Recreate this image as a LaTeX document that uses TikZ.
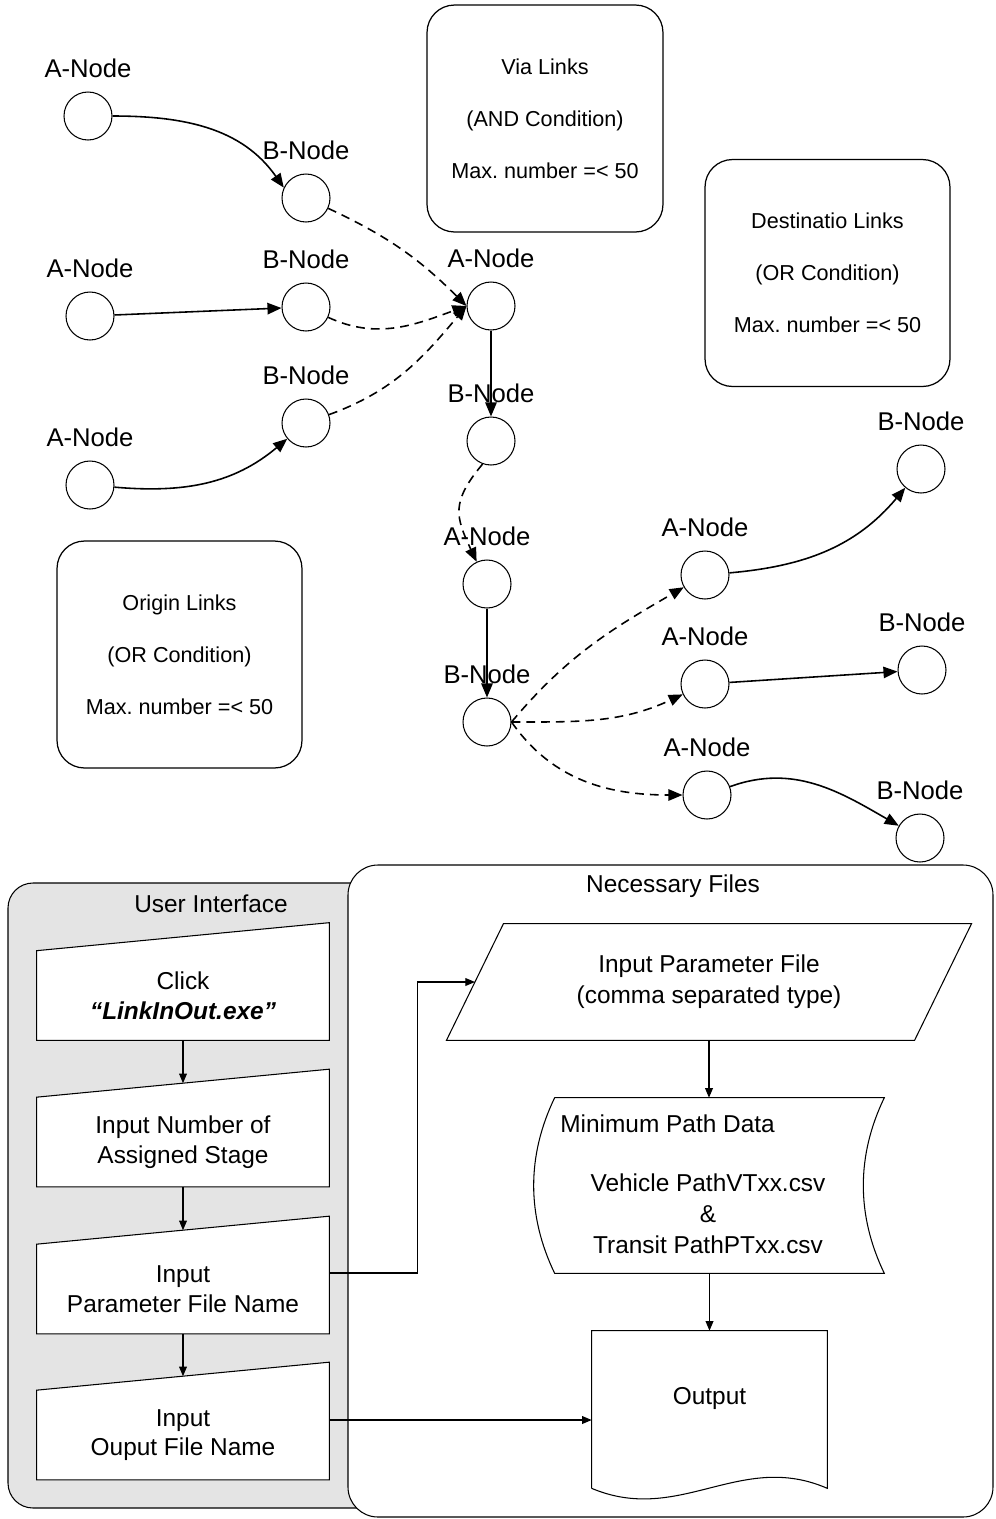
\documentclass[tikz,border=0pt]{standalone}
\usepackage{fontspec}
\setmainfont{Liberation Sans}
\usetikzlibrary{arrows.meta,calc}

\definecolor{panelgray}{RGB}{228,228,228}
\newcommand{\flowfont}{\fontsize{13.9pt}{16.8pt}\selectfont}
\frenchspacing

\tikzset{
	junc/.style={circle, draw, line width=0.6pt, minimum size=0.96cm, inner sep=0pt},
	nd/.style={junc, label={[font=\fontsize{14.6pt}{17pt}\selectfont, inner sep=0pt, label distance=0.26cm]above:#1}},
	link/.style={line width=0.9pt, -{Triangle[length=8pt,width=6.5pt]}},
	vlink/.style={link, dash pattern=on 5pt off 3.4pt},
	infobox/.style={draw, line width=0.7pt, rounded corners=0.55cm, minimum height=4.54cm, align=center, font=\fontsize{12.3pt}{29.6pt}\selectfont},
	muinput/.style={minimum width=5.84cm, minimum height=1.78cm, fill=white, align=center, inner sep=0pt, font=\flowfont},
	flow/.style={line width=0.6pt, -{Triangle[length=5.5pt,width=4.5pt]}}
}

\begin{document}
\begin{tikzpicture}[x=0.02cm, y=0.02cm]
\useasboundingbox (0,0) rectangle (996,-1519);

% condition boxes
\node[infobox, minimum width=4.72cm] (via) at (545,-118.5) {Via Links\\(AND Condition)\\Max. number =< 50};
\node[infobox, minimum width=4.9cm] (dest) at (827.5,-273) {Destinatio Links\\(OR Condition)\\Max. number =< 50};
\node[infobox, minimum width=4.9cm] (orig) at (179.5,-654.5) {Origin Links\\(OR Condition)\\Max. number =< 50};

% origin links
\node[nd=A-Node] (a1) at (88,-116) {};
\node[nd=B-Node] (b1) at (306,-198) {};
\node[nd=A-Node] (a2) at (90,-316) {};
\node[nd=B-Node] (b2) at (306,-307) {};
\node[nd=A-Node] (a3) at (90,-485) {};
\node[nd=B-Node] (b3) at (306,-423) {};

% via links
\node[nd=A-Node] (ca1) at (491,-306) {};
\node[nd=B-Node] (cb1) at (491,-441) {};
\node[nd=A-Node] (ca2) at (487,-584) {};
\node[nd=B-Node] (cb2) at (487,-722) {};

% destination links
\node[nd=A-Node] (da1) at (705,-575) {};
\node[nd=A-Node] (da2) at (705,-684) {};
\node[nd=A-Node] (da3) at (707,-795) {};
\node[nd=B-Node] (db1) at (921,-469) {};
\node[nd=B-Node] (db2) at (922,-670) {};
\node[nd=B-Node] (db3) at (920,-838) {};

\draw[link] (a1) to[out=0,in=125] (b1.155);
\draw[link] (a2) -- (b2);
\draw[link] (a3) to[out=-5,in=220] (b3);
\draw[vlink] (b1) to[out=-25,in=135] (ca1.west);
\draw[vlink] (b2) to[out=-25,in=200] (ca1.west);
\draw[vlink] (b3) to[out=20,in=230] (ca1.west);
\draw[link] (ca1) -- (cb1);
\draw[vlink] (cb1.250) to[out=230,in=115,looseness=1.3] (ca2);
\draw[link] (ca2) -- (cb2);
\draw[vlink] (cb2.east) to[out=50,in=210] (da1);
\draw[vlink] (cb2.east) to[out=0,in=205] (da2);
\draw[vlink] (cb2.east) to[out=-55,in=180] (da3);
\draw[link] (da1) to[out=5,in=230] (db1);
\draw[link] (da2) -- (db2);
\draw[link] (da3) to[out=20,in=150] (db3);

% panels
\draw[line width=0.6pt, fill=panelgray, rounded corners=0.5cm] (8,-883) rectangle (390,-1508);
\draw[line width=0.6pt, fill=white, rounded corners=0.6cm] (348,-865) rectangle (993,-1517);
\node[font=\flowfont] (uititle) at (211,-904) {User Interface};
\node[font=\flowfont] (nftitle) at (673,-886) {Necessary Files};

% user interface steps
\node[muinput] (ui1) at (183,-995.5) {Click\\\textbf{\textit{“LinkInOut.exe”}}};
\node[muinput] (ui2) at (183,-1142) {Input Number of\\Assigned Stage};
\node[muinput] (ui3) at (183,-1289) {Input\\Parameter File Name};
\node[muinput] (ui4) at (183,-1435) {Input\\Ouput File Name};
\foreach \n in {ui1,ui2,ui3,ui4}{
	\fill[white] ([yshift=-1.5pt]\n.north west) -- (\n.north west) -- ([yshift=0.56cm]\n.north east) -- ([yshift=-1.5pt]\n.north east) -- cycle;
	\draw[line width=0.6pt] (\n.south west) -- (\n.north west) -- ([yshift=0.56cm]\n.north east) -- (\n.south east) -- cycle;
}

% necessary files
\node[minimum width=9.35cm, minimum height=2.32cm, align=center, inner sep=0pt, font=\flowfont] (pf) at (709,-982) {Input Parameter File\\[0.8pt](comma separated type)};
\draw[line width=0.6pt] ([xshift=0.57cm]pf.north west) -- ([xshift=0.57cm]pf.north east) -- ([xshift=-0.57cm]pf.south east) -- ([xshift=-0.57cm]pf.south west) -- cycle;

\node[minimum width=6.58cm, minimum height=3.5cm, inner sep=0pt] (md) at (719.5,-1185.5) {};
\draw[line width=0.6pt] (md.north west) -- (md.north east) .. controls +(-28,-58) and +(-28,58) .. (md.south east) -- (md.south west) .. controls +(-28,58) and +(-28,-58) .. (md.north west);
\node[anchor=west, inner sep=0pt, font=\flowfont] (mdt) at (560,-1124) {Minimum Path Data};
\node[align=center, inner sep=0pt, font=\flowfont] (mdf) at (708,-1214) {Vehicle PathVTxx.csv\\[0.8pt]\&\\[0.8pt]Transit PathPTxx.csv};

\node[minimum width=4.7cm, minimum height=2.68cm, inner sep=0pt, font=\flowfont] (outf) at (709.5,-1398) {Output};
\draw[line width=0.6pt] ($(outf.south west)+(0,-23)$) -- (outf.north west) -- (outf.north east) -- ($(outf.south east)+(0,-23)$) .. controls +(-87,38) and +(88,-37) .. ($(outf.south west)+(0,-23)$);

\draw[flow] (ui1.south) -- ($(ui2.north)+(0,14)$);
\draw[flow] (ui2.south) -- ($(ui3.north)+(0,14)$);
\draw[flow] (ui3.south) -- ($(ui4.north)+(0,14)$);
\draw[flow] ($(ui3.east)+(0,16)$) -- ++(88,0) |- (pf.west);
\draw[flow] ($(ui4.east)+(0,15)$) -- ($(outf.west)+(0,-22)$);
\draw[flow] (pf.south) -- (pf.south |- md.north);
\draw[flow] (outf.north |- md.south) -- (outf.north);
\end{tikzpicture}
\end{document}
